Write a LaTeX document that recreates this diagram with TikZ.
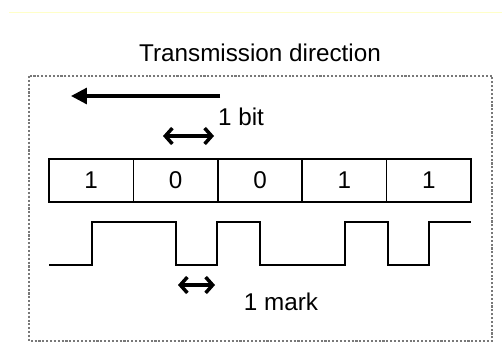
\documentclass[tikz,border=0pt]{standalone}
\usepackage{fontspec}
\setmainfont{Liberation Sans}
\usetikzlibrary{arrows.meta,positioning}
\definecolor{framegrey}{RGB}{120,120,120}
\definecolor{topbar}{RGB}{255,255,200}

\begin{document}
\begin{tikzpicture}[x=0.02cm, y=-0.02cm,
  txt/.style={font=\fontsize{13.8}{16}\selectfont, inner sep=0pt},
  bitcell/.style={draw, line width=0.8pt, minimum width=1.688cm, minimum height=0.86cm, inner sep=0pt, txt},
  wave/.style={line width=1.1pt},
  dirarrow/.style={line width=1.8pt, -{Triangle[length=9pt,width=9pt]}},
  span/.style={line width=2pt, {Straight Barb[length=4pt,width=9pt]}-{Straight Barb[length=4pt,width=9pt]}}
]
\useasboundingbox (0,0) rectangle (502,362);

% ---- page rule and outer frame ----
\draw[topbar, line width=1pt] (9,12.5) -- (502,12.5);
\draw[framegrey, line width=1.2pt, densely dotted] (29,76) rectangle (492,341);

% ---- direction ----
\node[txt, anchor=base] (title) at (260,61) {Transmission direction};
\coordinate (dirtail) at (220,96);
\coordinate (dirhead) at (71,96);
\draw[dirarrow] (dirtail) -- (dirhead);

% ---- bit cells ----
\foreach \b [count=\i] in {1,0,0,1,1}
  \node[bitcell] (cell\i) at ({49+84.4*(\i-0.5)},180.5) {\b};

\node[txt, anchor=base] (bitlbl) at (241,125) {1 bit};
\coordinate (bitl) at (163,136);
\coordinate (bitr) at (214,136);
\draw[span] (bitl) -- (bitr);

% ---- waveform ----
\draw[wave] (49,265) -- (92,265) -- (92,222) -- (176,222) -- (176,265) -- (217,265)
  -- (217,222) -- (260,222) -- (260,265) -- (345,265) -- (345,222) -- (388,222)
  -- (388,265) -- (429,265) -- (429,222) -- (471,222);

\coordinate (markl) at (178,285);
\coordinate (markr) at (215,285);
\draw[span] (markl) -- (markr);
\node[txt, anchor=base] (marklbl) at (281,310) {1 mark};

\end{tikzpicture}
\end{document}
